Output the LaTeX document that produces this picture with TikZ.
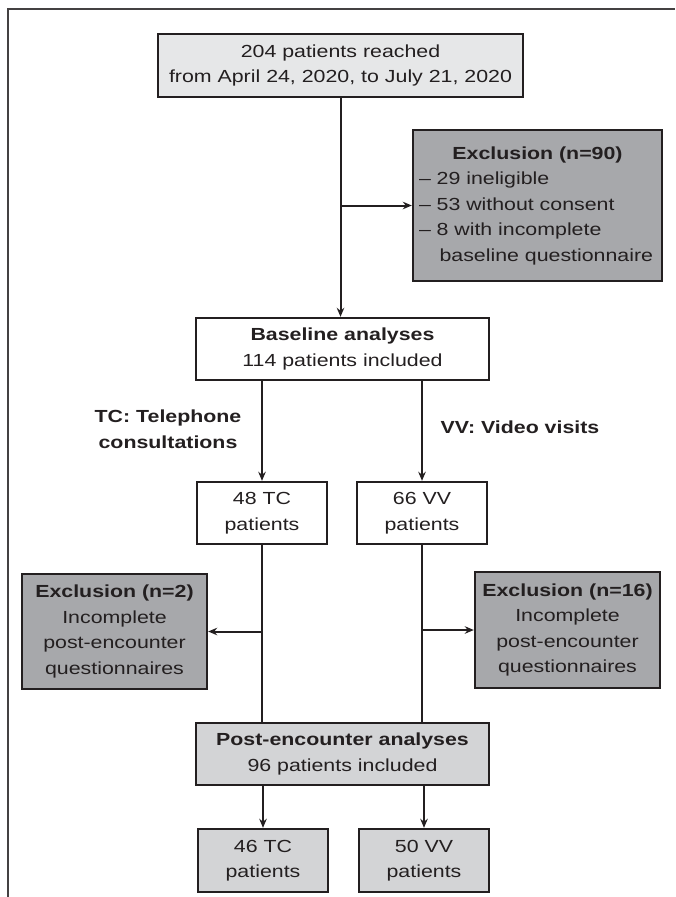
\documentclass[tikz,border=0pt]{standalone}
\usepackage{fontspec}
\setmainfont[FakeStretch=1.22]{Liberation Sans}
\usepackage{tikz}
\usetikzlibrary{arrows.meta}
\usepackage{xcolor}
\definecolor{inkline}{HTML}{231F20}
\definecolor{boxlight}{HTML}{E6E7E8}
\definecolor{boxmid}{HTML}{D3D4D6}
\definecolor{boxdark}{HTML}{A7A8AB}

\begin{document}
\begin{tikzpicture}[x=1pt,y=-1pt,
  >={Stealth[length=9pt,width=7.5pt]},
  every node/.style={font=\fontsize{17.5}{25.5}\selectfont, text=inkline},
  box/.style={draw=inkline, line width=2.4pt, inner sep=4pt, align=center},
  conn/.style={draw=inkline, line width=2pt}]
  \useasboundingbox (0,0) rectangle (675,897);
  \draw[inkline!85, line width=1.6pt] (8,897) -- (8,9) -- (675,9);

  \node[box, fill=boxlight, minimum width=365pt, minimum height=63pt] (reached) at (340.5,65.5) {204 patients reached\\from April 24, 2020, to July 21, 2020};
  \node[box, fill=boxdark, minimum height=151pt, inner sep=6pt, text width=237pt] (excl1) at (537.5,205.5) {\centering\textbf{Exclusion (n=90)}\par\raggedright – 29 ineligible\\– 53 without consent\\– 8 with incomplete\\\hphantom{– }baseline questionnaire};
  \node[box, fill=white, minimum width=293pt, minimum height=62pt] (base) at (342.5,349) {\textbf{Baseline analyses}\\114 patients included};
  \node[align=center, font=\fontsize{17.5}{25.5}\selectfont\bfseries] (tclab) at (168,429) {TC: Telephone\\consultations};
  \node[align=center, font=\fontsize{17.5}{25.5}\selectfont\bfseries] (vvlab) at (520,427) {VV: Video visits};
  \node[box, fill=white, minimum width=130pt, minimum height=62pt] (tc) at (262,513) {48 TC\\patients};
  \node[box, fill=white, minimum width=130pt, minimum height=62pt] (vv) at (422,513) {66 VV\\patients};
  \node[box, fill=boxdark, minimum width=185pt, minimum height=115pt] (excl2) at (114.5,631.5) {\textbf{Exclusion (n=2)}\\Incomplete\\post-encounter\\questionnaires};
  \node[box, fill=boxdark, minimum width=185pt, minimum height=116pt] (excl3) at (567.5,630) {\textbf{Exclusion (n=16)}\\Incomplete\\post-encounter\\questionnaires};
  \node[box, fill=boxmid, minimum width=293pt, minimum height=62pt] (post) at (342.5,754) {\textbf{Post-encounter analyses}\\96 patients included};
  \node[box, fill=boxmid, minimum width=130pt, minimum height=63pt] (tcend) at (263,860.5) {46 TC\\patients};
  \node[box, fill=boxmid, minimum width=130pt, minimum height=63pt] (vvend) at (424,860.5) {50 VV\\patients};

  \draw[conn,->] (reached.south) -- (reached.south |- base.north);
  \draw[conn,->] (reached.south |- excl1.west) -- (excl1.west);
  \draw[conn,->] (tc.north |- base.south) -- (tc.north);
  \draw[conn,->] (vv.north |- base.south) -- (vv.north);
  \draw[conn] (tc.south) -- (tc.south |- post.north);
  \draw[conn] (vv.south) -- (vv.south |- post.north);
  \draw[conn,->] (tc.south |- excl2.east) -- (excl2.east);
  \draw[conn,->] (vv.south |- excl3.west) -- (excl3.west);
  \draw[conn,->] (tcend.north |- post.south) -- (tcend.north);
  \draw[conn,->] (vvend.north |- post.south) -- (vvend.north);
\end{tikzpicture}
\end{document}
